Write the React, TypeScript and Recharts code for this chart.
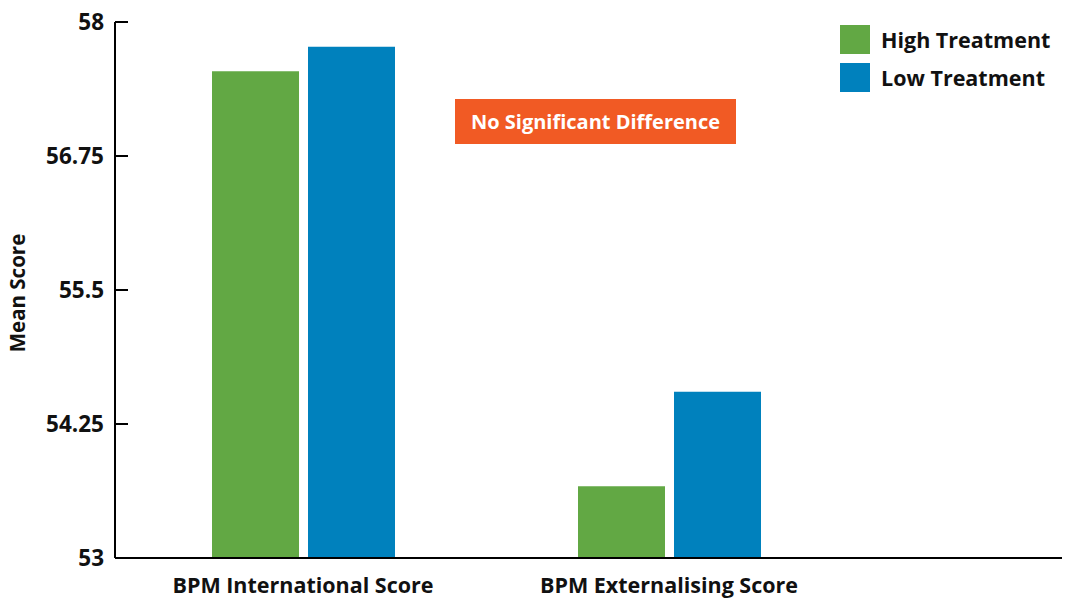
import { BarChart, Bar, XAxis, YAxis } from "recharts";

const categories = ["BPM International Score", "BPM Externalising Score"];
const highTreatment = [57.54, 53.67];
const lowTreatment = [57.77, 54.55];
const yTicks = [53, 54.25, 55.5, 56.75, 58];

const data = categories.map((name, i) => ({ name, high: highTreatment[i], low: lowTreatment[i] }));

const GREEN = "#62a844";
const BLUE = "#0081bd";
const FONT = "'Open Sans', Lato, sans-serif";

const YTick = (props: any) => {
  const { x, y, payload } = props;
  return (
    <g>
      <line x1={x + 10} x2={x + 23} y1={y} y2={y} stroke="#000" strokeWidth={2} />
      <text x={x - 1} y={y} dy={8} textAnchor="end" fontSize={22.5} fontWeight={700} fill="#111" fontFamily={FONT}>
        {payload.value}
      </text>
    </g>
  );
};

const XTick = (props: any) => {
  const { x, y, payload } = props;
  return (
    <text x={x} y={y} dy={27} textAnchor="middle" fontSize={21.5} fontWeight={700} fill="#111" fontFamily={FONT}>
      {payload.value}
    </text>
  );
};

const legendItems = [
  { label: "High Treatment", color: GREEN },
  { label: "Low Treatment", color: BLUE },
];

export default function App() {
  return (
    <div style={{ position: "fixed", top: 0, left: 0, width: 1067, height: 598, background: "#fff" }}>
      <BarChart
        width={1067}
        height={598}
        data={data}
        barSize={87}
        barGap={9}
        margin={{ top: 22, right: 5, left: 0, bottom: 0 }}
      >
        <XAxis
          dataKey="name"
          height={40}
          tick={<XTick />}
          tickLine={false}
          axisLine={{ stroke: "#000", strokeWidth: 2 }}
          padding={{ left: 5, right: 210 }}
          interval={0}
        />
        <YAxis
          width={115}
          domain={[53, 58]}
          ticks={yTicks}
          tick={<YTick />}
          tickLine={false}
          tickSize={0}
          tickMargin={10}
          axisLine={{ stroke: "#000", strokeWidth: 2 }}
          allowDataOverflow
        />
        <Bar dataKey="high" name="High Treatment" fill={GREEN} isAnimationActive={false} />
        <Bar dataKey="low" name="Low Treatment" fill={BLUE} isAnimationActive={false} />
      </BarChart>
      <div
        style={{
          position: "absolute",
          left: 17,
          top: 293,
          transform: "translate(-50%, -50%) rotate(-90deg)",
          whiteSpace: "nowrap",
          fontFamily: FONT,
          fontWeight: 700,
          fontSize: 20.5,
          color: "#111",
        }}
      >
        Mean Score
      </div>
      <div style={{ position: "absolute", left: 840, top: 20, fontFamily: FONT, fontWeight: 700, fontSize: 21.5, color: "#111" }}>
        {legendItems.map((it) => (
          <div key={it.label} style={{ display: "flex", alignItems: "center", height: 38 }}>
            <span style={{ width: 30, height: 29, background: it.color, marginRight: 11, display: "inline-block" }} />
            <span>{it.label}</span>
          </div>
        ))}
      </div>
      <div
        style={{
          position: "absolute",
          left: 455,
          top: 99,
          width: 281,
          height: 45,
          background: "#f15a24",
          color: "#fff",
          fontFamily: FONT,
          fontWeight: 700,
          fontSize: 20,
          display: "flex",
          alignItems: "center",
          justifyContent: "center",
        }}
      >
        No Significant Difference
      </div>
    </div>
  );
}
